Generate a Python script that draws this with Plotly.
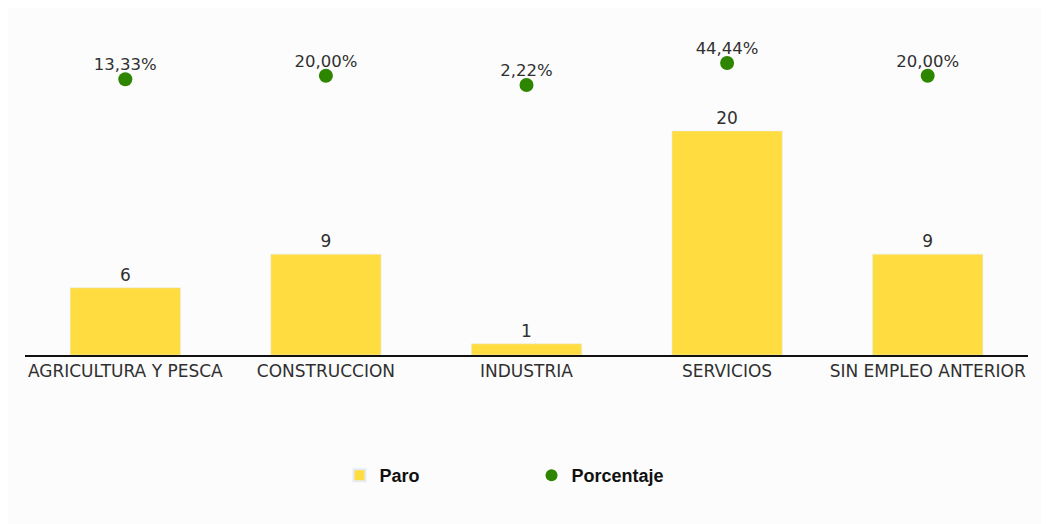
import plotly.graph_objects as go

categories = ["AGRICULTURA Y PESCA", "CONSTRUCCION", "INDUSTRIA", "SERVICIOS", "SIN EMPLEO ANTERIOR"]
paro = [6, 9, 1, 20, 9]
porcentaje = [13.33, 20.00, 2.22, 44.44, 20.00]
porcentaje_labels = ["13,33%", "20,00%", "2,22%", "44,44%", "20,00%"]

BAR = "#FFDD40"
GREEN = "#2E8500"
TXT = "#303030"
FONT = "DejaVu Sans"

fig = go.Figure()
fig.add_trace(go.Bar(
    x=categories, y=paro, name="Paro", marker_color=BAR, width=0.55,
    text=[str(v) for v in paro], textposition="outside", cliponaxis=False,
    textfont=dict(family=FONT, size=17, color=TXT),
))
fig.add_trace(go.Scatter(
    x=categories, y=porcentaje, name="Porcentaje", mode="markers",
    marker=dict(color=GREEN, size=14), yaxis="y2", cliponaxis=False,
))
# percentage labels (slightly tighter to the dots)
fig.add_trace(go.Scatter(
    x=categories, y=porcentaje, mode="markers+text", showlegend=False, hoverinfo="skip",
    marker=dict(color=GREEN, size=6, opacity=0), yaxis="y2",
    text=porcentaje_labels, textposition="top center", cliponaxis=False,
    textfont=dict(family=FONT, size=16.5, color=TXT),
))

fig.update_layout(
    width=1049, height=524,
    paper_bgcolor="#fcfcfc", plot_bgcolor="#fcfcfc",
    margin=dict(l=17, r=29, t=12, b=177),
    bargap=0.45,
    showlegend=True,
    legend=dict(orientation="h", x=0.505, xanchor="center", y=-0.36, yanchor="middle",
                font=dict(family="Liberation Sans", size=18, color="#111111", weight="bold"),
                entrywidth=147, itemsizing="constant"),
    xaxis=dict(showline=True, linecolor="#111111", linewidth=2, ticks="", showgrid=False,
               tickfont=dict(family=FONT, size=17, color=TXT)),
    yaxis=dict(range=[0, 29.9], visible=False, showgrid=False),
    yaxis2=dict(range=[-516, 127], overlaying="y", visible=False, showgrid=False),
)

fig.write_html("out.html")
